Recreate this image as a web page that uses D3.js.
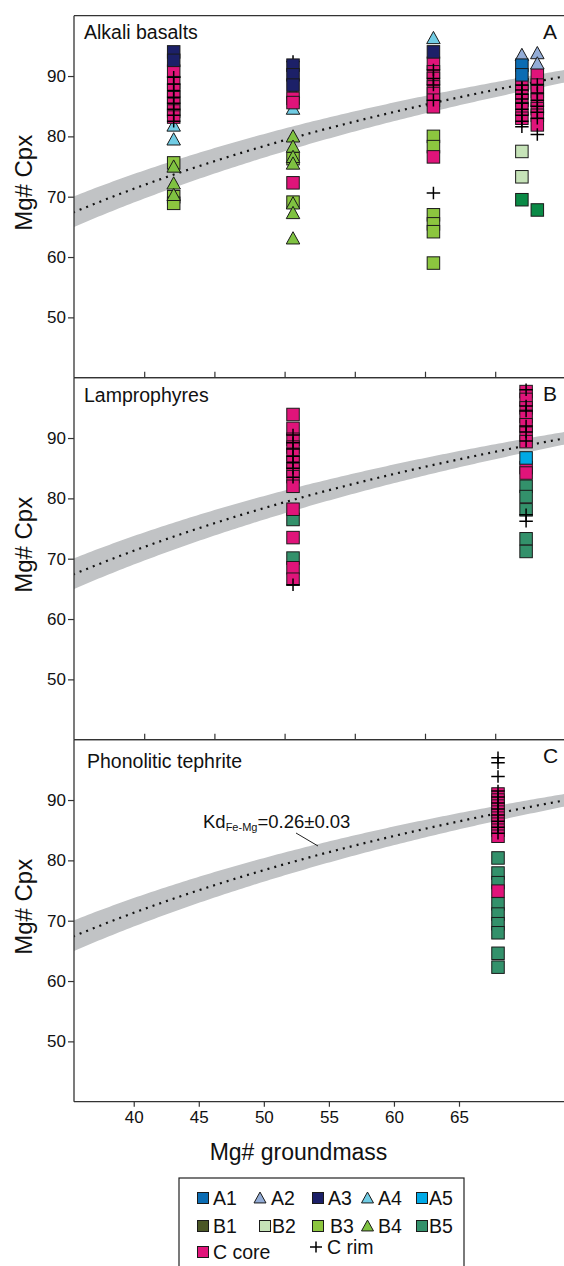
<!DOCTYPE html>
<html><head><meta charset="utf-8">
<script src="https://cdn.jsdelivr.net/npm/d3@7"></script>
<style>
body{margin:0;background:#fff}
svg{display:block}
text{font-family:"Liberation Sans", Arial, Helvetica, sans-serif; fill:#111}
</style>
</head><body><svg id="chart" width="564" height="1266"></svg>
<script>
// ---------------- DATA ----------------
const panelTitles = ["Alkali basalts", "Lamprophyres", "Phonolitic tephrite"];
const panelLetters = ["A", "B", "C"];
const yTickValues = [50, 60, 70, 80, 90];
const xTickValues = [40, 45, 50, 55, 60, 65];
const kdValues = [0.23, 0.26, 0.29];   // Kd Fe-Mg = 0.26 ± 0.03
const kdLabel = ["Kd", "Fe-Mg", "=0.26\u00b10.03"];

const seriesNames = ["A1", "A2", "A3", "A4", "A5", "B1", "B2", "B3", "B4", "B5", "C core", "C rim", "Bx"];
const seriesShapes = ["square", "triangle", "square", "triangle", "square", "square", "square", "square", "triangle", "square", "square", "plus", "square"];
const seriesColors = ["#0b6cb3", "#93acd6", "#1c2068", "#70cce4", "#00a9e6", "#4b5726", "#c6e3b8", "#8cc63f", "#7fc241", "#33916b", "#e0147a", "#000000", "#0a8a46"];

// [Mg# groundmass, Mg# Cpx]
// Panel A : Alkali basalts
const a_A1 = [[66.9, 91.8], [66.9, 90.2]];
const a_A2 = [[66.9, 93.5], [68.0, 93.8], [68.0, 92.1]];
const a_A3 = [[42.1, 94.0], [42.1, 92.6], [50.6, 91.8], [50.6, 90.2], [50.6, 88.5], [60.6, 94.0]];
const a_A4 = [[42.1, 81.8], [42.1, 79.5], [50.6, 87.3], [50.6, 84.6], [60.6, 96.3]];
const a_B2 = [[66.9, 77.5], [66.9, 73.3]];
const a_B3 = [[42.1, 75.6], [42.1, 70.0], [42.1, 68.9], [50.6, 76.3], [50.6, 69.1],
              [60.6, 80.0], [60.6, 78.3], [60.6, 67.0], [60.6, 65.5], [60.6, 64.2], [60.6, 59.0]];
const a_B4 = [[42.1, 75.0], [42.1, 72.2], [42.1, 70.3], [50.6, 80.0], [50.6, 78.3], [50.6, 76.6],
              [50.6, 75.5], [50.6, 68.9], [50.6, 67.3], [50.6, 63.1]];
const a_Bx = [[66.9, 69.5], [68.0, 67.8]];
const a_Ccore = [[42.1, 90.8], [42.1, 88.9], [42.1, 87.6], [42.1, 86.4], [42.1, 85.3], [42.1, 84.2], [42.1, 83.2],
                 [50.6, 86.3], [50.6, 85.6], [50.6, 72.3],
                 [60.6, 92.1], [60.6, 90.7], [60.6, 89.6], [60.6, 88.2], [60.6, 87.1], [60.6, 86.0], [60.6, 84.9], [60.6, 76.6],
                 [66.9, 88.5], [66.9, 87.4], [66.9, 86.0], [66.9, 84.6], [66.9, 83.0],
                 [68.0, 90.2], [68.0, 88.5], [68.0, 87.4], [68.0, 86.0], [68.0, 84.6], [68.0, 83.5], [68.0, 81.9]];
const a_Crim = [[42.1, 89.8], [42.1, 88.7], [42.1, 87.6], [42.1, 86.5], [42.1, 85.5], [42.1, 84.5], [42.1, 83.5], [42.1, 82.5],
                [50.6, 92.4],
                [60.6, 91.0], [60.6, 89.6], [60.6, 88.5], [60.6, 86.0], [60.6, 70.6],
                [66.9, 89.5], [66.9, 88.5], [66.9, 87.7], [66.9, 87.0], [66.9, 86.2], [66.9, 85.5], [66.9, 84.5], [66.9, 83.5], [66.9, 82.5], [66.9, 81.6],
                [68.0, 88.6], [68.0, 87.2], [68.0, 86.0], [68.0, 85.0], [68.0, 84.0], [68.0, 83.0], [68.0, 80.3]];

// Panel B : Lamprophyres
const b_A5 = [[67.2, 86.7]];
const b_B5 = [[50.6, 76.5], [50.6, 70.1], [67.2, 82.0], [67.2, 80.3], [67.2, 78.1], [67.2, 73.3], [67.2, 71.2]];
const b_Ccore = [[50.6, 93.9], [50.6, 91.6], [50.6, 89.8], [50.6, 88.5], [50.6, 87.3], [50.6, 86.0], [50.6, 84.8], [50.6, 83.6],
                 [50.6, 82.0], [50.6, 78.2], [50.6, 73.5], [50.6, 68.5], [50.6, 66.6],
                 [67.2, 97.7], [67.2, 96.4], [67.2, 95.0], [67.2, 93.6], [67.2, 92.2], [67.2, 90.8], [67.2, 89.4], [67.2, 85.1], [67.2, 84.2]];
const b_Crim = [[50.6, 90.5], [50.6, 89.2], [50.6, 88.2], [50.6, 87.0], [50.6, 86.0], [50.6, 85.0], [50.6, 83.5], [50.6, 65.7],
                [67.2, 98.0], [67.2, 95.3], [67.2, 94.5], [67.2, 92.0], [67.2, 91.0], [67.2, 89.5], [67.2, 77.3], [67.2, 76.2]];

// Panel C : Phonolitic tephrite
const c_B5 = [[65.2, 80.4], [65.2, 77.9], [65.2, 76.3], [65.2, 72.8], [65.2, 71.1], [65.2, 69.5], [65.2, 68.0], [65.2, 64.6], [65.2, 62.3]];
const c_Ccore = [[65.2, 91.0], [65.2, 90.0], [65.2, 89.0], [65.2, 88.0], [65.2, 87.0], [65.2, 86.0], [65.2, 85.0], [65.2, 84.0], [65.2, 74.9]];
const c_Crim = [[65.2, 97.0], [65.2, 96.2], [65.2, 93.9], [65.2, 91.5], [65.2, 90.5], [65.2, 89.5], [65.2, 88.5], [65.2, 87.5],
                [65.2, 86.5], [65.2, 85.5], [65.2, 84.5]];

// drawing order (bottom to top) per panel
const panelSeries = [
  [["A4", a_A4], ["B3", a_B3], ["B4", a_B4], ["Bx", a_Bx], ["B2", a_B2], ["C core", a_Ccore], ["C rim", a_Crim], ["A2", a_A2], ["A1", a_A1], ["A3", a_A3]],
  [["B5", b_B5], ["C core", b_Ccore], ["C rim", b_Crim], ["A5", b_A5]],
  [["B5", c_B5], ["C core", c_Ccore], ["C rim", c_Crim]]
];

const legendRows = [["A1", "A2", "A3", "A4", "A5"], ["B1", "B2", "B3", "B4", "B5"], ["C core", "C rim"]];

// ---------------- LAYOUT ----------------
const W = 564, left = 74, right = 564;
const panelTop = [15.7, 377.7, 739.7];
const panelH = 362;
const svg = d3.select("#chart");

const x = d3.scaleLinear().domain([35, 69.9]).range([left, right]);
const xLab = d3.scaleLinear().domain([35.41, 73.07]).range([left, right]);

const shapeOf = n => seriesShapes[seriesNames.indexOf(n)];
const colorOf = n => seriesColors[seriesNames.indexOf(n)];

function cpxMg(gm, kd) { return 100 / (1 + kd * (100 / gm - 1)); }
const gmGrid = d3.range(34, 71.01, 0.25);

function drawMarker(g, shape, color, cx, cy, s) {
  if (shape === "square") {
    g.append("rect").attr("x", cx - s / 2).attr("y", cy - s / 2).attr("width", s).attr("height", s)
      .attr("fill", color).attr("stroke", "#1a1a1a").attr("stroke-width", 1);
  } else if (shape === "triangle") {
    const h = s * 0.9;
    g.append("path").attr("d", `M${cx},${cy - h / 2 - 1}L${cx + s / 2 + 0.5},${cy + h / 2}L${cx - s / 2 - 0.5},${cy + h / 2}Z`)
      .attr("fill", color).attr("stroke", "#1a1a1a").attr("stroke-width", 1);
  } else {
    g.append("path").attr("d", `M${cx - s / 2 - 0.5},${cy}H${cx + s / 2 + 0.5}M${cx},${cy - s / 2}V${cy + s / 2}`)
      .attr("stroke", "#000").attr("stroke-width", 1.5).attr("fill", "none");
  }
}

svg.append("defs").append("clipPath").attr("id", "clipAll")
  .append("rect").attr("x", left).attr("y", panelTop[0]).attr("width", W - left).attr("height", panelH * 3);

panelTitles.forEach((title, i) => {
  const top = panelTop[i], bottom = top + panelH;
  const y = d3.scaleLinear().domain([40, 100]).range([bottom, top]);
  const g = svg.append("g");
  const gc = g.append("g").attr("clip-path", "url(#clipAll)");

  // equilibrium band
  gc.append("path").datum(gmGrid)
    .attr("d", d3.area().x(d => x(d)).y0(d => y(cpxMg(d, kdValues[2]))).y1(d => y(cpxMg(d, kdValues[0]))))
    .attr("fill", "#c1c3c5");
  gc.append("path").datum(gmGrid)
    .attr("d", d3.line().x(d => x(d)).y(d => y(cpxMg(d, kdValues[1]))))
    .attr("fill", "none").attr("stroke", "#111").attr("stroke-width", 2.2)
    .attr("stroke-dasharray", "2 5.1");

  // markers
  panelSeries[i].forEach(([name, pts]) => {
    const gs = gc.append("g");
    pts.forEach(p => drawMarker(gs, shapeOf(name), colorOf(name), x(p[0]), y(p[1]), 12.5));
  });

  // frame
  g.append("line").attr("x1", left).attr("x2", W + 2).attr("y1", top).attr("y2", top).attr("stroke", "#333").attr("stroke-width", 1.3);
  g.append("line").attr("x1", left).attr("x2", W + 2).attr("y1", bottom).attr("y2", bottom).attr("stroke", "#333").attr("stroke-width", 1.3);
  g.append("line").attr("x1", left).attr("x2", left).attr("y1", top).attr("y2", bottom).attr("stroke", "#333").attr("stroke-width", 1.3);

  // y axis
  const ya = g.append("g").attr("transform", `translate(${left},0)`)
    .call(d3.axisLeft(y).tickValues(yTickValues).tickSize(6).tickPadding(2).tickFormat(d3.format("d")));
  ya.select(".domain").remove();
  ya.selectAll("line").attr("stroke", "#333").attr("stroke-width", 1.2);
  ya.selectAll("text").style("font-size", "17px").style("font-family", "Liberation Sans, Arial, sans-serif").attr("fill", "#111");

  // inner x ticks for upper panels
  if (i < 2) {
    const xa = g.append("g").attr("transform", `translate(0,${bottom})`)
      .call(d3.axisTop(x).tickValues(xTickValues).tickSize(6).tickFormat(""));
    xa.select(".domain").remove();
    xa.selectAll("line").attr("stroke", "#333").attr("stroke-width", 1.2);
  }

  g.append("text").attr("x", i === 2 ? 87 : 84).attr("y", top + [23, 24.5, 28][i]).text(title).style("font-size", "19.5px");
  g.append("text").attr("x", 543).attr("y", top + 23.5).text(panelLetters[i]).style("font-size", "21px");

  g.append("text").attr("transform", `translate(31.5,${y(72.3)}) rotate(-90)`)
    .attr("text-anchor", "middle").text("Mg# Cpx").style("font-size", "24px");

  if (i === 2) {
    const xa = g.append("g").attr("transform", `translate(0,${bottom})`)
      .call(d3.axisBottom(xLab).tickValues(xTickValues).tickSize(5).tickPadding(4));
    xa.select(".domain").remove();
    xa.selectAll("line").attr("stroke", "#333").attr("stroke-width", 1.2);
    xa.selectAll("text").style("font-size", "17px").style("font-family", "Liberation Sans, Arial, sans-serif").attr("fill", "#111");

    // Kd annotation
    const t = g.append("text").attr("x", 203).attr("y", 828).style("font-size", "18.5px");
    t.append("tspan").text(kdLabel[0]);
    t.append("tspan").attr("dy", 3).style("font-size", "11px").text(kdLabel[1]);
    t.append("tspan").attr("dy", -3).text(kdLabel[2]);
    g.append("line").attr("x1", 296).attr("y1", 833).attr("x2", 318).attr("y2", 846)
      .attr("stroke", "#222").attr("stroke-width", 1);
  }
});

svg.append("text").attr("x", 298.5).attr("y", 1160).attr("text-anchor", "middle")
  .text("Mg# groundmass").style("font-size", "23px");

// ---------------- LEGEND ----------------
const lg = svg.append("g");
lg.append("rect").attr("x", 179).attr("y", 1178).attr("width", 285).attr("height", 100)
  .attr("fill", "#fff").attr("stroke", "#222").attr("stroke-width", 1.2);
const legMarkX = [[203, 260, 318, 367.5, 422], [203, 265, 318, 367.5, 422], [203, 316]];
const legTextX = [[213, 271, 328, 378, 429], [213, 272, 330, 378, 429], [213, 327]];
const legRowY = [1198, 1226, 1249];
legendRows.forEach((row, r) => {
  row.forEach((name, k) => {
    const cy = r === 2 && name === "C rim" ? legRowY[r] - 2 : legRowY[r] + (r === 2 ? 3 : 0);
    drawMarker(lg, shapeOf(name), colorOf(name), legMarkX[r][k], cy, 11);
    lg.append("text").attr("x", legTextX[r][k]).attr("y", cy + 7).text(name).style("font-size", "19.5px");
  });
});
</script></body></html>
